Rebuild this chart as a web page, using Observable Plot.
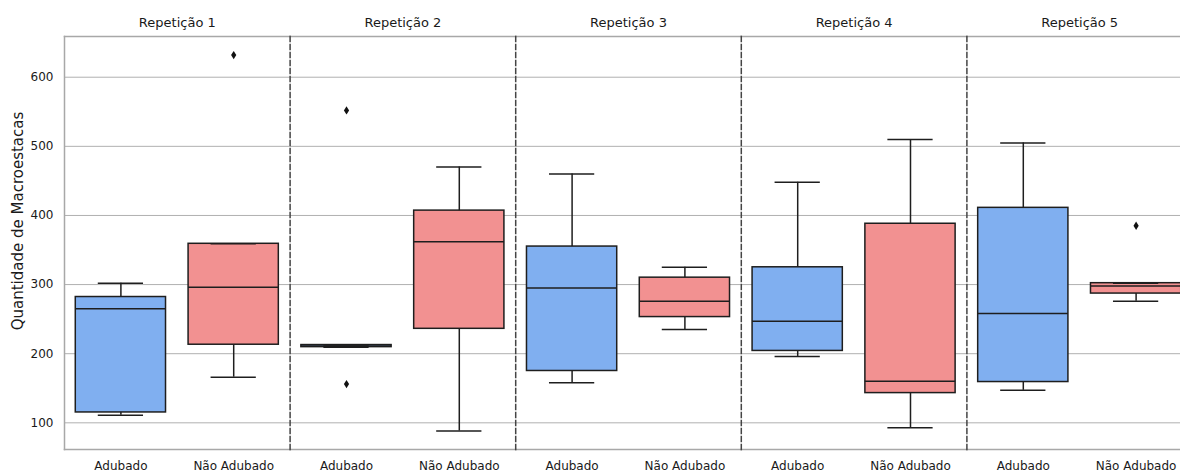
<!DOCTYPE html>
<html>
<head>
<meta charset="utf-8">
<script src="https://cdn.jsdelivr.net/npm/d3@7"></script>
<script src="https://cdn.jsdelivr.net/npm/@observablehq/plot@0.6"></script>
<style>
  html, body { margin: 0; padding: 0; background: white; overflow: hidden; }
  #chart { width: 1180px; height: 472px; overflow: hidden; }
</style>
</head>
<body>
<div id="chart"></div>
<script>
// ---- data ----
const repetitions = ["Repetição 1", "Repetição 2", "Repetição 3", "Repetição 4", "Repetição 5"];
const groups = ["Adubado", "Não Adubado"];
// one entry per box, order: Rep1 Adubado, Rep1 Não Adubado, Rep2 Adubado, ...
const boxRep   = ["Repetição 1", "Repetição 1", "Repetição 2", "Repetição 2", "Repetição 3", "Repetição 3", "Repetição 4", "Repetição 4", "Repetição 5", "Repetição 5"];
const boxGroup = ["Adubado", "Não Adubado", "Adubado", "Não Adubado", "Adubado", "Não Adubado", "Adubado", "Não Adubado", "Adubado", "Não Adubado"];
const whiskerLow  = [111, 166, 209.5, 88, 158, 235, 196, 93, 147, 276];
const quartile1   = [115, 213, 209.5, 236, 175, 253, 204, 143, 159, 287];
const medianValue = [265, 296, 211, 362, 295, 276, 247, 160, 258, 298];
const quartile3   = [282, 359, 212.5, 407, 355, 310, 325, 388, 411, 302];
const whiskerHigh = [302, 359, 212.5, 470, 460, 325, 448, 510, 505, 302];
// outliers
const outlierRep   = ["Repetição 1", "Repetição 2", "Repetição 2", "Repetição 5"];
const outlierGroup = ["Não Adubado", "Adubado", "Adubado", "Não Adubado"];
const outlierValue = [632, 552, 156, 385];
// axis
const yTicks = [100, 200, 300, 400, 500, 600];
const yDomain = [61.4, 658.9];
const yLabel = "Quantidade de Macroestacas";
const groupColors = ["#80aff0", "#f29191"];

// ---- tables built from the arrays ----
const boxes = boxRep.map((rep, i) => ({
  rep, group: boxGroup[i],
  lo: whiskerLow[i], q1: quartile1[i], med: medianValue[i], q3: quartile3[i], hi: whiskerHigh[i]
}));
const outliers = outlierRep.map((rep, i) => ({rep, group: outlierGroup[i], value: outlierValue[i]}));

// thin diamond (matplotlib 'd' flier)
const thinDiamond = {
  draw(context, size) {
    const r = Math.sqrt(size / Math.PI);
    const w = r * 0.62;
    context.moveTo(0, -r);
    context.lineTo(w, 0);
    context.lineTo(0, r);
    context.lineTo(-w, 0);
    context.closePath();
  }
};

const edge = "#1e1e1e";
const capInset = 22.5;

const plot = Plot.plot({
  width: 1192,
  height: 472,
  marginLeft: 64,
  marginRight: 0,
  marginTop: 36,
  marginBottom: 23,
  style: {
    fontFamily: "DejaVu Sans, sans-serif",
    fontSize: "12px",
    color: "#1a1a1a",
    background: "white",
    maxWidth: "none",
    overflow: "visible"
  },
  fx: {domain: repetitions, padding: 0, round: false},
  x: {domain: groups, paddingInner: 0.2, paddingOuter: 0.1, round: false},
  y: {domain: yDomain},
  color: {domain: groups, range: groupColors},
  marks: [
    Plot.ruleY(yTicks, {stroke: "#b0b0b0", strokeWidth: 1}),
    Plot.frame({anchor: "top", stroke: "#a8a8a8", strokeWidth: 1.5}),
    Plot.frame({anchor: "bottom", stroke: "#a8a8a8", strokeWidth: 1.5}),
    Plot.frame({anchor: "left", stroke: "#a8a8a8", strokeWidth: 1.5, fx: repetitions[0]}),
    ...repetitions.slice(1).map(r =>
      Plot.frame({anchor: "left", stroke: "#444", strokeWidth: 1.5, strokeDasharray: "5,3", fx: r})
    ),
    Plot.axisFx({anchor: "top", tickSize: 0, tickPadding: 10, fontSize: 13, label: null}),
    Plot.axisY(yTicks, {tickSize: 0, tickPadding: 11, fontSize: 12, label: null}),
    Plot.axisX({tickSize: 0, tickPadding: 12, fontSize: 12, label: null}),
    Plot.text([yLabel], {
      text: d => d, fx: () => repetitions[0], frameAnchor: "left",
      rotate: -90, textAnchor: "middle", lineAnchor: "middle",
      dx: -46, dy: -22, fontSize: 15, fill: "#1a1a1a"
    }),
    // whiskers
    Plot.ruleX(boxes, {fx: "rep", x: "group", y1: "lo", y2: "hi", stroke: edge, strokeWidth: 1.5}),
    // boxes
    Plot.barY(boxes, {fx: "rep", x: "group", y1: "q1", y2: "q3", fill: "group", stroke: edge, strokeWidth: 1.5}),
    // medians
    Plot.tickY(boxes, {fx: "rep", x: "group", y: "med", stroke: edge, strokeWidth: 1.5}),
    // caps
    Plot.tickY(boxes, {fx: "rep", x: "group", y: "lo", stroke: edge, strokeWidth: 1.5, insetLeft: capInset, insetRight: capInset}),
    Plot.tickY(boxes, {fx: "rep", x: "group", y: "hi", stroke: edge, strokeWidth: 1.5, insetLeft: capInset, insetRight: capInset}),
    // outliers
    Plot.dot(outliers, {fx: "rep", x: "group", y: "value", symbol: thinDiamond, r: 4.2, fill: "#111", stroke: "none"})
  ]
});
document.getElementById("chart").appendChild(plot);
</script>
</body>
</html>
